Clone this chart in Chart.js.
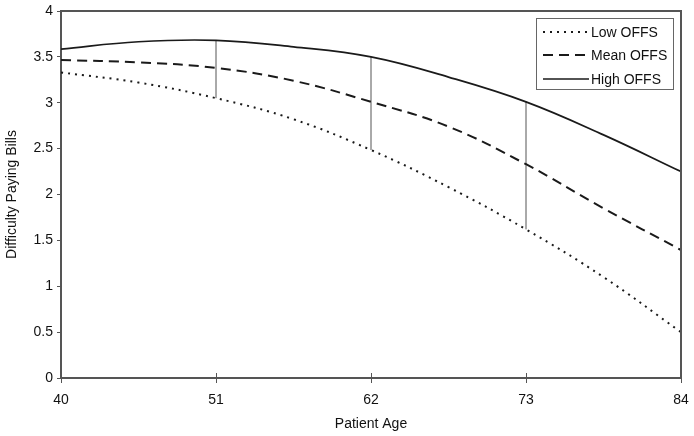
<!DOCTYPE html>
<html><head><meta charset="utf-8">
<script src="https://cdn.jsdelivr.net/npm/chart.js@4"></script>
<style>html,body{margin:0;padding:0;background:#fff}#wrap{width:694px;height:436px}</style>
</head><body><div id="wrap"><canvas id="c" width="694" height="436"></canvas></div>
<script>
const ages = [40, 45.5, 51, 56.5, 62, 67.5, 73, 78.5, 84];
const lowOFFS = [3.33, 3.22, 3.05, 2.82, 2.485, 2.08, 1.62, 1.10, 0.50];
const meanOFFS = [3.466, 3.44, 3.38, 3.24, 3.01, 2.74, 2.33, 1.85, 1.395];
const highOFFS = [3.585, 3.665, 3.68, 3.61, 3.50, 3.28, 3.01, 2.65, 2.25];
const xTicks = [40, 51, 62, 73, 84];
const markerAges = [51, 62, 73];
const seriesNames = ['Low OFFS', 'Mean OFFS', 'High OFFS'];

const FONT = "'Liberation Sans', Arial, sans-serif";
Chart.defaults.font.family = FONT;
Chart.defaults.font.size = 14;
Chart.defaults.color = '#111';

const toPts = arr => ages.map((a, i) => ({x: a, y: arr[i]}));
const styles = [
  {borderDash: [2, 5], borderWidth: 2},
  {borderDash: [10, 6], borderWidth: 2},
  {borderDash: [], borderWidth: 1.7}
];
const curveData = [lowOFFS, meanOFFS, highOFFS];

const datasets = curveData.map((arr, k) => ({
  label: seriesNames[k],
  data: toPts(arr),
  borderColor: '#1a1a1a',
  borderWidth: styles[k].borderWidth,
  borderDash: styles[k].borderDash,
  pointRadius: 0,
  tension: 0.4,
  fill: false
}));
markerAges.forEach(age => {
  const i = ages.indexOf(age);
  datasets.push({
    label: 'marker' + age,
    data: [{x: age, y: lowOFFS[i]}, {x: age, y: highOFFS[i]}],
    borderColor: '#555',
    borderWidth: 1,
    pointRadius: 0,
    tension: 0,
    fill: false
  });
});

const framePlugin = {
  id: 'frame',
  afterDatasetsDraw(chart) {
    const {ctx, chartArea: a} = chart;
    ctx.save();
    ctx.strokeStyle = '#555';
    ctx.lineWidth = 2;
    ctx.beginPath();
    ctx.moveTo(a.left, a.top);
    ctx.lineTo(a.right, a.top);
    ctx.lineTo(a.right, a.bottom);
    ctx.stroke();
    // inner part of x ticks
    ctx.lineWidth = 1;
    const xs = chart.scales.x;
    xTicks.forEach(v => {
      const px = Math.round(xs.getPixelForValue(v)) + 0.5;
      ctx.beginPath();
      ctx.moveTo(px, a.bottom);
      ctx.lineTo(px, a.bottom - 5);
      ctx.stroke();
    });
    // legend
    const bx = 536.5, by = 18.5, bw = 137, bh = 71;
    ctx.fillStyle = '#fff';
    ctx.fillRect(bx, by, bw, bh);
    ctx.strokeStyle = '#666';
    ctx.lineWidth = 1;
    ctx.strokeRect(bx, by, bw, bh);
    const rows = [32, 55, 79];
    seriesNames.forEach((name, k) => {
      ctx.strokeStyle = '#1a1a1a';
      ctx.lineWidth = styles[k].borderWidth;
      ctx.setLineDash(styles[k].borderDash);
      ctx.beginPath();
      ctx.moveTo(543, rows[k]);
      ctx.lineTo(589, rows[k]);
      ctx.stroke();
      ctx.setLineDash([]);
      ctx.fillStyle = '#111';
      ctx.font = '14px ' + FONT;
      ctx.textBaseline = 'middle';
      ctx.textAlign = 'left';
      ctx.fillText(name, 591, rows[k] + 1);
    });
    ctx.restore();
  }
};

new Chart(document.getElementById('c'), {
  type: 'line',
  data: {datasets},
  options: {
    responsive: false,
    animation: false,
    devicePixelRatio: 1,
    layout: {padding: {top: 11, right: 13, bottom: 0, left: 0}},
    plugins: {legend: {display: false}, tooltip: {enabled: false}},
    scales: {
      x: {
        type: 'linear',
        min: 40, max: 84,
        afterBuildTicks: s => { s.ticks = xTicks.map(v => ({value: v})); },
        afterFit: s => { s.height = 58; s.paddingRight = 0; s.paddingLeft = 0; },
        grid: {display: true, drawOnChartArea: false, drawTicks: true, tickLength: 5, color: '#555', lineWidth: 1},
        border: {display: true, color: '#555', width: 2},
        ticks: {padding: 9, maxRotation: 0, autoSkip: false, color: '#111', font: {size: 14}},
        title: {display: true, text: 'Patient Age', color: '#111', font: {size: 14}, padding: {top: 0, bottom: 3}}
      },
      y: {
        min: 0, max: 4,
        afterFit: s => { s.width = 61; s.paddingTop = 0; s.paddingBottom = 0; },
        grid: {display: true, drawOnChartArea: false, drawTicks: true, tickLength: 4, color: '#555', lineWidth: 1},
        border: {display: true, color: '#555', width: 2},
        ticks: {stepSize: 0.5, padding: 4, color: '#111', font: {size: 14}, callback: v => String(v)},
        title: {display: true, text: 'Difficulty Paying Bills', color: '#111', font: {size: 14}, padding: {top: 4, bottom: 0}}
      }
    }
  },
  plugins: [framePlugin]
});
</script>
</body></html>
